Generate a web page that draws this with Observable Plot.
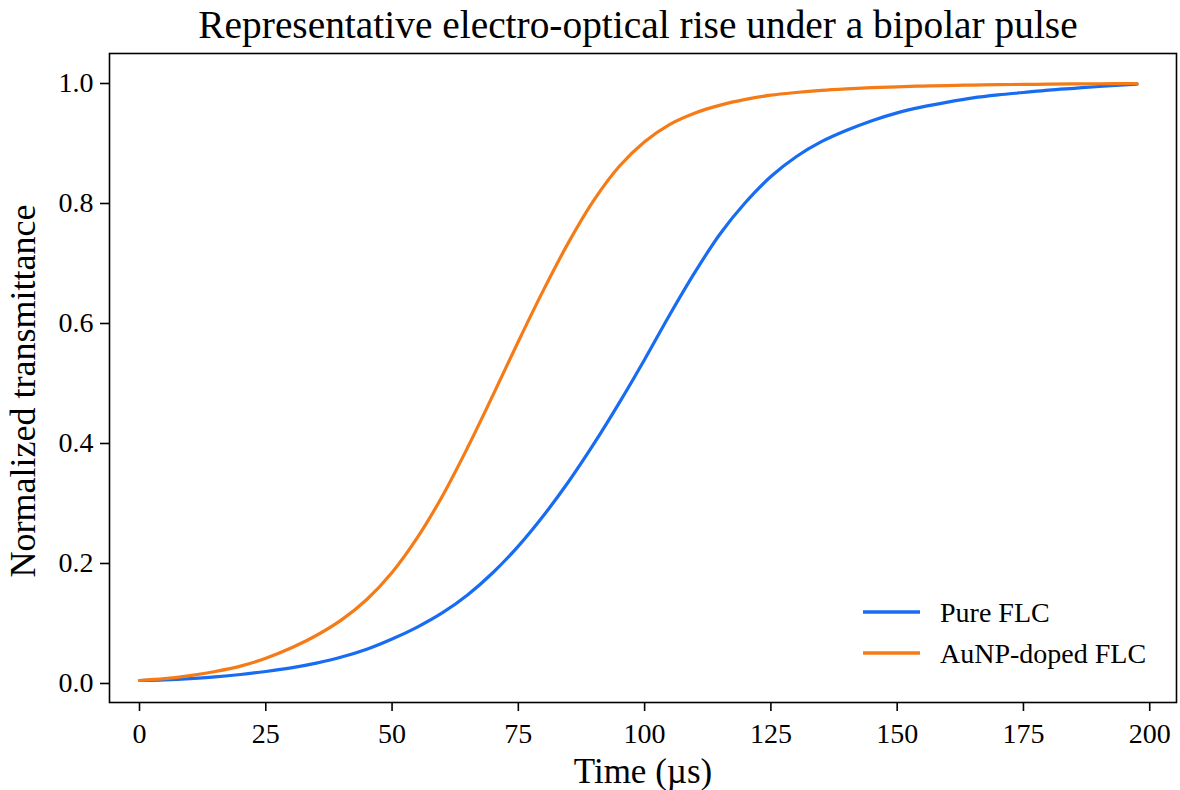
<!DOCTYPE html>
<html>
<head>
<meta charset="utf-8">
<script src="https://cdn.jsdelivr.net/npm/d3@7"></script>
<script src="https://cdn.jsdelivr.net/npm/@observablehq/plot@0.6"></script>
<style>
  html, body { margin: 0; padding: 0; background: #fff; }
  #wrap { position: relative; width: 1180px; height: 790px; font-family: "Liberation Serif", "Times New Roman", serif; color: #000; }
  #title { position: absolute; left: 100px; width: 1076px; top: 0; height: 50px; line-height: 50px; text-align: center; font-size: 39.4px; white-space: nowrap; }
  #chart { position: absolute; left: 0; top: 50px; }
  #legend { position: absolute; left: 0; top: 0; pointer-events: none; }
</style>
</head>
<body>
<div id="wrap">
  <div id="title">Representative electro-optical rise under a bipolar pulse</div>
  <div id="chart"></div>
  <svg id="legend" width="1180" height="790"></svg>
</div>
<script>
// Time samples (µs)
const time = [0, 5, 10, 15, 20, 25, 30, 35, 40, 45, 50, 55, 60, 65, 70, 75, 80, 85, 90, 95,
  100, 105, 110, 115, 120, 125, 130, 135, 140, 145, 150, 155, 160, 165, 170, 175, 180, 185, 190, 197.5];
// Pure FLC normalized transmittance
const pureFLC = [0.005, 0.006, 0.008, 0.011, 0.015, 0.020, 0.026, 0.034, 0.044, 0.057, 0.074, 0.094, 0.118, 0.148, 0.185, 0.229, 0.280, 0.337, 0.400, 0.468,
  0.540, 0.615, 0.686, 0.750, 0.802, 0.845, 0.878, 0.903, 0.922, 0.938, 0.951, 0.961, 0.969, 0.976, 0.981, 0.985, 0.989, 0.992, 0.995, 0.999];
// AuNP-doped FLC normalized transmittance
const dopedFLC = [0.005, 0.008, 0.013, 0.020, 0.029, 0.042, 0.059, 0.080, 0.106, 0.140, 0.185, 0.243, 0.313, 0.394, 0.481, 0.570, 0.656, 0.736, 0.806, 0.862,
  0.903, 0.932, 0.951, 0.964, 0.9735, 0.9805, 0.985, 0.9885, 0.991, 0.993, 0.9945, 0.9957, 0.9966, 0.9974, 0.998, 0.9985, 0.9989, 0.9993, 0.9996, 1.000];
const seriesNames = ["Pure FLC", "AuNP-doped FLC"];
const seriesColors = ["#176cf2", "#f57b17"];
const xTicks = [0, 25, 50, 75, 100, 125, 150, 175, 200];
const yTicks = [0.0, 0.2, 0.4, 0.6, 0.8, 1.0];

const rows = [];
time.forEach((t, i) => {
  rows.push({time: t, value: pureFLC[i], series: seriesNames[0]});
  rows.push({time: t, value: dopedFLC[i], series: seriesNames[1]});
});

const font = "Liberation Serif, Times New Roman, serif";
const chart = Plot.plot({
  width: 1180,
  height: 740,
  marginLeft: 109,
  marginRight: 4,
  marginTop: 3,
  marginBottom: 88,
  style: {fontFamily: font, fontSize: "28px", color: "#000", background: "transparent", overflow: "visible"},
  x: {domain: [-5.94, 205.3]},
  y: {domain: [-0.0317, 1.05]},
  color: {domain: seriesNames, range: seriesColors},
  marks: [
    Plot.frame({stroke: "#000", strokeWidth: 1.6}),
    Plot.axisX({ticks: xTicks, tickSize: 9, tickPadding: 12, tickFormat: d3.format("d"), label: null, fontSize: 28, strokeWidth: 1.6}),
    Plot.axisY({ticks: yTicks, tickSize: 9, tickPadding: 7, tickFormat: d3.format(".1f"), label: null, fontSize: 28, strokeWidth: 1.6}),
    Plot.line(rows, {x: "time", y: "value", stroke: "series", z: "series", strokeWidth: 3.2, curve: "catmull-rom"}),
    Plot.text(["Time (µs)"], {frameAnchor: "bottom", dy: 69, text: d => d, fontSize: 35, lineAnchor: "middle", textAnchor: "middle", fill: "#000"}),
    Plot.text(["Normalized transmittance"], {frameAnchor: "left", dx: -86, dy: 13, rotate: -90, text: d => d, fontSize: 36, lineAnchor: "middle", textAnchor: "middle", fill: "#000"})
  ]
});
document.getElementById("chart").appendChild(chart);

// Legend
const leg = d3.select("#legend");
const legX = 863, legY0 = 612, legStep = 41;
seriesNames.forEach((name, i) => {
  const y = legY0 + i * legStep;
  leg.append("line").attr("x1", legX).attr("x2", legX + 57).attr("y1", y).attr("y2", y)
    .attr("stroke", seriesColors[i]).attr("stroke-width", 3.5);
  leg.append("text").attr("x", legX + 77).attr("y", y + 10).text(name)
    .attr("font-family", font).attr("font-size", 28).attr("fill", "#000");
});
</script>
</body>
</html>
